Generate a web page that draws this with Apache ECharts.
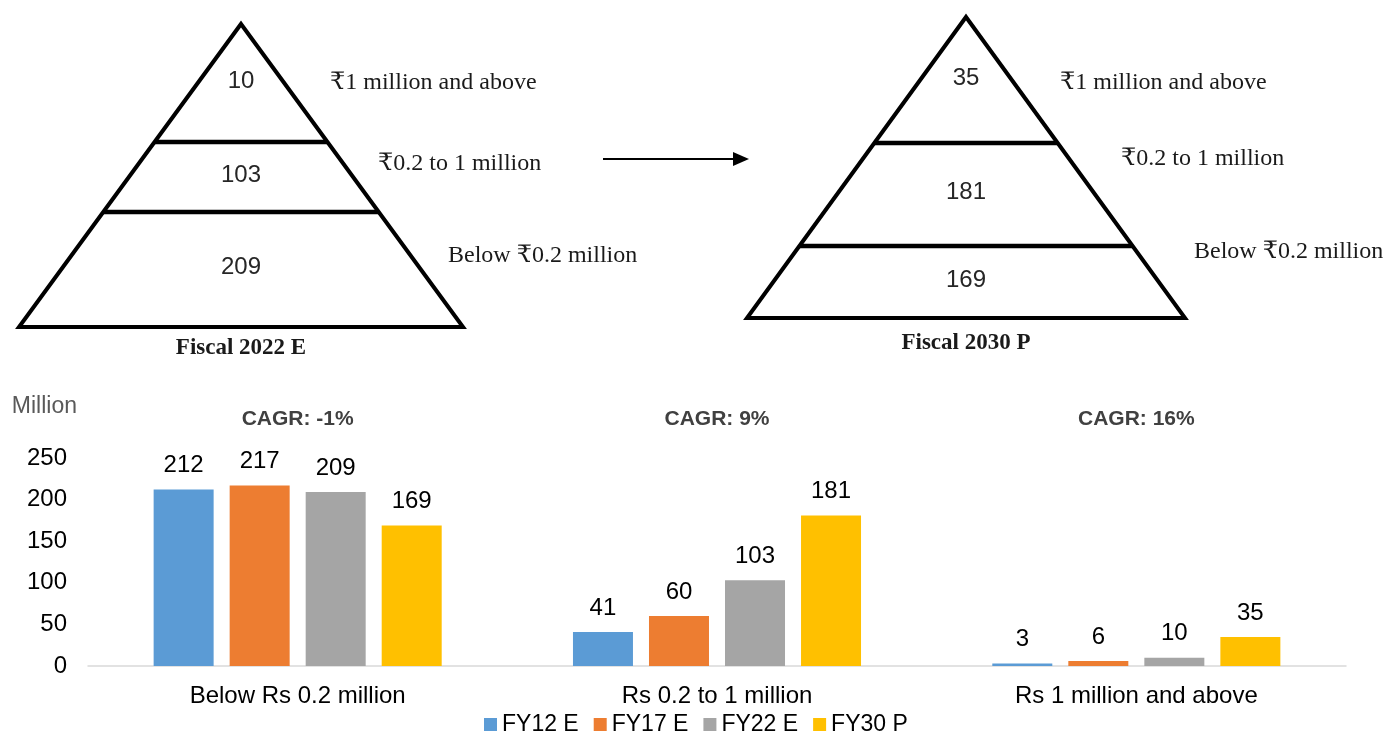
<!DOCTYPE html>
<html>
<head>
<meta charset="utf-8">
<script src="https://cdn.jsdelivr.net/npm/echarts@6/dist/echarts.min.js"></script>
<style>
    html, body { margin: 0; padding: 0; background: #fff; }
    #main { width: 1386px; height: 731px; }
</style>
</head>
<body>
<div id="main"></div>
<script>
    // pyramid panels
    const bandNames = ['₹1 million and above', '₹0.2 to 1 million', 'Below ₹0.2 million'];
    const pyramid2022 = [10, 103, 209];
    const pyramid2030 = [35, 181, 169];
    const pyramidTitles = ['Fiscal 2022 E', 'Fiscal 2030 P'];

    // bar chart
    const categories = ['Below Rs 0.2 million', 'Rs 0.2 to 1 million', 'Rs 1 million and above'];
    const seriesNames = ['FY12 E', 'FY17 E', 'FY22 E', 'FY30 P'];
    const fy12 = [212, 41, 3];
    const fy17 = [217, 60, 6];
    const fy22 = [209, 103, 10];
    const fy30 = [169, 181, 35];
    const cagr = ['-1%', '9%', '16%'];

    const colors = ['#5b9bd5', '#ed7d31', '#a5a5a5', '#ffc000'];
    const SANS = '"Liberation Sans", Arial, sans-serif';
    const SERIF = '"Liberation Serif", "Times New Roman", "DejaVu Serif", serif';

    // draws one pyramid: triangle, two divider lines, numbers and side labels
    function pyramid(p, values, title) {
        const els = [];
        const h = p.baseY - p.apexY;
        const halfAt = y => (y - p.apexY) / h * p.half;
        els.push({
            type: 'polygon',
            shape: { points: [[p.cx, p.apexY], [p.cx + p.half, p.baseY], [p.cx - p.half, p.baseY]] },
            style: { fill: '#fff', stroke: '#000', lineWidth: 4, lineJoin: 'miter' }
        });
        p.cuts.forEach(y => {
            els.push({
                type: 'line',
                shape: { x1: p.cx - halfAt(y), y1: y, x2: p.cx + halfAt(y), y2: y },
                style: { stroke: '#000', lineWidth: 4.5 }
            });
        });
        const edges = [p.apexY].concat(p.cuts, [p.baseY]);
        values.forEach((v, i) => {
            els.push({
                type: 'text', x: p.cx, y: (edges[i] + edges[i + 1]) / 2 - 2,
                style: { text: String(v), fontSize: 24, fontFamily: SANS, fill: '#262626', align: 'center', verticalAlign: 'middle' }
            });
            els.push({
                type: 'text', x: p.labelX[i], y: p.labelY[i],
                style: { text: bandNames[i], fontSize: 24, fontFamily: SERIF, fill: '#1a1a1a', align: 'left', verticalAlign: 'middle' }
            });
        });
        els.push({
            type: 'text', x: p.cx, y: p.titleY,
            style: { text: title, fontSize: 23, fontWeight: 'bold', fontFamily: SERIF, fill: '#1a1a1a', align: 'center', verticalAlign: 'middle' }
        });
        return els;
    }

    const leftP = { cx: 241, apexY: 24, baseY: 327, half: 222, cuts: [142, 212],
        labelX: [330, 378, 448], labelY: [83, 164, 256], titleY: 348 };
    const rightP = { cx: 966, apexY: 17, baseY: 318, half: 219, cuts: [143, 246],
        labelX: [1060, 1121, 1194], labelY: [83, 159, 252], titleY: 343 };

    const graphics = []
        .concat(pyramid(leftP, pyramid2022, pyramidTitles[0]))
        .concat(pyramid(rightP, pyramid2030, pyramidTitles[1]));
    graphics.push({
        type: 'line', shape: { x1: 603, y1: 159, x2: 736, y2: 159 },
        style: { stroke: '#000', lineWidth: 1.8 }
    });
    graphics.push({
        type: 'polygon', shape: { points: [[733, 152], [749, 159], [733, 166]] },
        style: { fill: '#000' }
    });

    const allValues = [fy12, fy17, fy22, fy30];

    const myChart = echarts.init(document.getElementById('main'));
    const option = {
        animation: false,
        color: colors,
        textStyle: { fontFamily: SANS },
        grid: { left: 88, right: 40, top: 458, bottom: 65, containLabel: false },
        legend: {
            data: seriesNames,
            left: 479,
            top: 708,
            icon: 'rect',
            itemWidth: 13,
            itemHeight: 13,
            itemGap: 15,
            textStyle: { fontSize: 23, color: '#000', fontFamily: SANS }
        },
        xAxis: [
            {
                type: 'category',
                data: categories,
                axisTick: { show: false },
                axisLine: { lineStyle: { color: '#d9d9d9', width: 1.5 } },
                axisLabel: { fontSize: 24, color: '#000', margin: 18, fontFamily: SANS }
            },
            {
                type: 'category',
                position: 'top',
                data: cagr.map(c => 'CAGR: ' + c),
                axisTick: { show: false },
                axisLine: { show: false },
                axisLabel: { fontSize: 21, fontWeight: 'bold', color: '#404040', margin: 28, fontFamily: SANS }
            }
        ],
        yAxis: {
            type: 'value',
            min: 0,
            max: 250,
            interval: 50,
            name: 'Million',
            nameLocation: 'end',
            nameGap: 40,
            nameTextStyle: { fontSize: 23, color: '#595959', align: 'right', padding: [0, 11, 0, 0], fontFamily: SANS },
            axisLine: { show: false },
            axisTick: { show: false },
            splitLine: { show: false },
            axisLabel: { fontSize: 24, color: '#000', margin: 21, fontFamily: SANS }
        },
        graphic: graphics,
        series: seriesNames.map((name, i) => ({
            name: name,
            type: 'bar',
            data: allValues[i],
            barWidth: 60,
            barGap: '26.7%',
            label: {
                show: true,
                position: 'top',
                distance: 12,
                fontSize: 24,
                color: '#000',
                fontFamily: SANS
            }
        }))
    };
    myChart.setOption(option);
</script>
</body>
</html>
